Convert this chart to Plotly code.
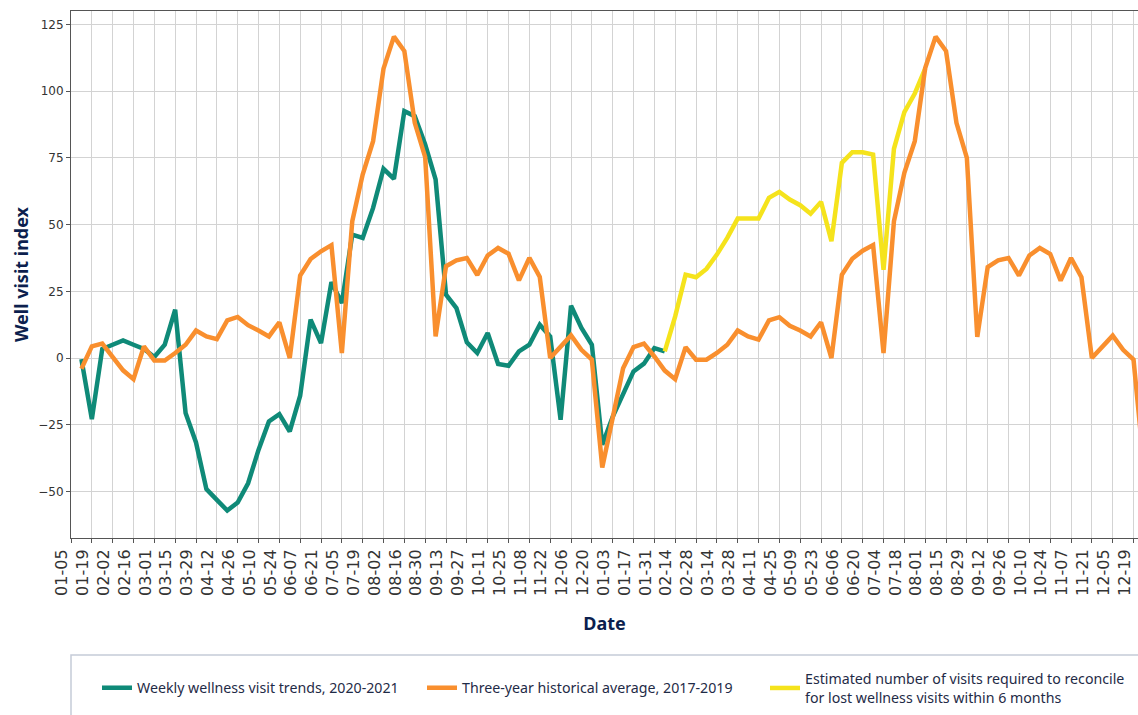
import pandas as pd
import plotly.graph_objects as go

# ---------------- data ----------------
weekly_trend = [-0.4, -22.9, 3.4, 5, 6.6, 5, 3.4, 0.4, 5, 18.1, -20.6, -31.6, -49.1, -53.1,
                -57.1, -54.1, -46.9, -34.4, -23.75, -21, -27.5, -14.1, 14.4, 5.6, 28.4, 20.6,
                46.25, 45, 56.25, 70.9, 67.1, 92.5, 90.6, 80, 66.9, 23.75, 18.75, 5.9, 1.9,
                9.4, -2.25, -2.9, 2.5, 5, 12.5, 8.1, -23.1, 19.6, 11.25, 5, -32.5, -22, -13,
                -5, -2.1, 3.75, 2.5]
weekly_trend_start = "2020-01-12"

historical_avg = [-4, 4.4, 5.4, 0.6, -4.6, -7.9, 4.4, -0.9, -0.9, 1.9, 5, 10.3, 8.1, 7.1,
                  14.1, 15.4, 12.3, 10.3, 8.1, 13.4, 0, 30.9, 37.1, 40, 42.3, 1.9, 51.25,
                  68.75, 81.25, 108.4, 120.4, 115, 88.1, 75.3, 8.1, 34.4, 36.6, 37.5, 31.1,
                  38.4, 41.25, 39.1, 29.1, 37.5, 30.4, 0, 4.3, 8.5, 3.1, -0.6, -41, -22,
                  -3.8, 4.1, 5.4, 0.6, -4.7, -7.9, 4.1, -0.6, -0.6, 1.9, 5, 10.3, 8.1, 6.9,
                  14.1, 15.3, 12.1, 10.3, 8.1, 13.4, 0, 31.2, 37.2, 40.2, 42.3, 1.9, 51.25,
                  69.4, 81.25, 108.6, 120.4, 115, 88.1, 75, 7.9, 34.1, 36.6, 37.5, 30.9,
                  38.4, 41.25, 39, 29, 37.5, 30.3, 0, 4.1, 8.4, 3.1, -0.6, -41]
historical_avg_start = "2020-01-12"

estimated_needed = [2.5, 15.6, 31.25, 30.25, 33.4, 38.75, 45, 52.25, 52.25, 52.25, 60,
                    62.25, 59.4, 57.25, 54.1, 58.5, 43.75, 73.1, 77.1, 77.1, 76.25, 33.1,
                    78.4, 92.1, 99.1, 108.4]
estimated_needed_start = "2021-02-07"

tick_start = "2020-01-05"
tick_end = "2021-12-19"

names = ["Weekly wellness visit trends, 2020-2021",
         "Three-year historical average, 2017-2019",
         "Estimated number of visits required to reconcile<br>for lost wellness visits within 6 months"]
colors = ["#0f8a78", "#f98f2e", "#f5e31c"]

# ---------------- figure ----------------
def weeks(start, n):
    return pd.date_range(start, periods=n, freq="7D")

x_teal = weeks(weekly_trend_start, len(weekly_trend))
x_orange = weeks(historical_avg_start, len(historical_avg))
x_yellow = weeks(estimated_needed_start, len(estimated_needed))

tickvals = pd.date_range(tick_start, tick_end, freq="14D")
ticktext = [d.strftime("%m-%d") for d in tickvals]

LW = 4.5
fig = go.Figure()
fig.add_trace(go.Scatter(x=x_teal, y=weekly_trend, mode="lines", name=names[0],
                         line=dict(color=colors[0], width=LW), legend="legend"))
fig.add_trace(go.Scatter(x=x_yellow, y=estimated_needed, mode="lines", name=names[2],
                         line=dict(color=colors[2], width=LW), legend="legend3"))
fig.add_trace(go.Scatter(x=x_orange, y=historical_avg, mode="lines", name=names[1],
                         line=dict(color=colors[1], width=LW), legend="legend2"))

W, H = 1138, 715
L, R, T, B = 71, 0, 11, 177
pw, ph = W - L - R, H - T - B

def px(xp):
    return (xp - L) / pw

def py(yp):
    return 1 - (yp - T) / ph

x0 = pd.Timestamp(tick_start)
x1 = x0 + pd.Timedelta(days=717)

legend_font = dict(family="Noto Sans", size=14.2, color="#1f2b47")
common_leg = dict(orientation="h", yanchor="middle", xanchor="left",
                  bgcolor="rgba(0,0,0,0)", font=legend_font, itemwidth=30,
                  borderwidth=0, valign="middle")

fig.update_layout(
    width=W, height=H,
    margin=dict(l=L, r=R, t=T, b=B, pad=0, autoexpand=False),
    plot_bgcolor="white", paper_bgcolor="white",
    showlegend=True,
    legend=dict(x=px(97), y=py(688), **common_leg),
    legend2=dict(x=px(422), y=py(688), **common_leg),
    legend3=dict(x=px(765), y=py(688), **common_leg),
    xaxis=dict(
        type="date", range=[x0, x1], automargin=False,
        tickmode="array", tickvals=tickvals, ticktext=ticktext, tickangle=-90,
        tickfont=dict(family="DejaVu Sans", size=16, color="#333333"),
        ticks="outside", ticklen=4, tickcolor="#555555", ticklabelshift=-9,
        showgrid=True, gridcolor="#d3d3d3", gridwidth=1,
        showline=True, linecolor="#555555", linewidth=1, mirror=True,
        zeroline=False,
        title=dict(text="<b>Date</b>", font=dict(family="Noto Sans", size=18, color="#0c1f4e"),
                   standoff=22),
    ),
    yaxis=dict(
        range=[-67.4, 130], tickvals=[-50, -25, 0, 25, 50, 75, 100, 125], automargin=False,
        tickfont=dict(family="DejaVu Sans", size=12, color="#333333"),
        ticks="outside", ticklen=4, tickcolor="#555555",
        showgrid=True, gridcolor="#d3d3d3", gridwidth=1,
        showline=True, linecolor="#555555", linewidth=1, mirror=False,
        zeroline=False,
        title=dict(text="<b>Well visit index</b>", font=dict(family="Noto Sans", size=18, color="#0c1f4e"),
                   standoff=4),
    ),
    shapes=[dict(type="rect", xref="paper", yref="paper",
                 x0=0, x1=1.05, y0=py(655), y1=py(760),
                 line=dict(color="#c5cbd8", width=1.5), fillcolor="rgba(0,0,0,0)")],
)

fig.write_html("out.html", config={"displayModeBar": False},
               post_script="document.body.style.margin='0px';document.body.style.padding='0px';")
